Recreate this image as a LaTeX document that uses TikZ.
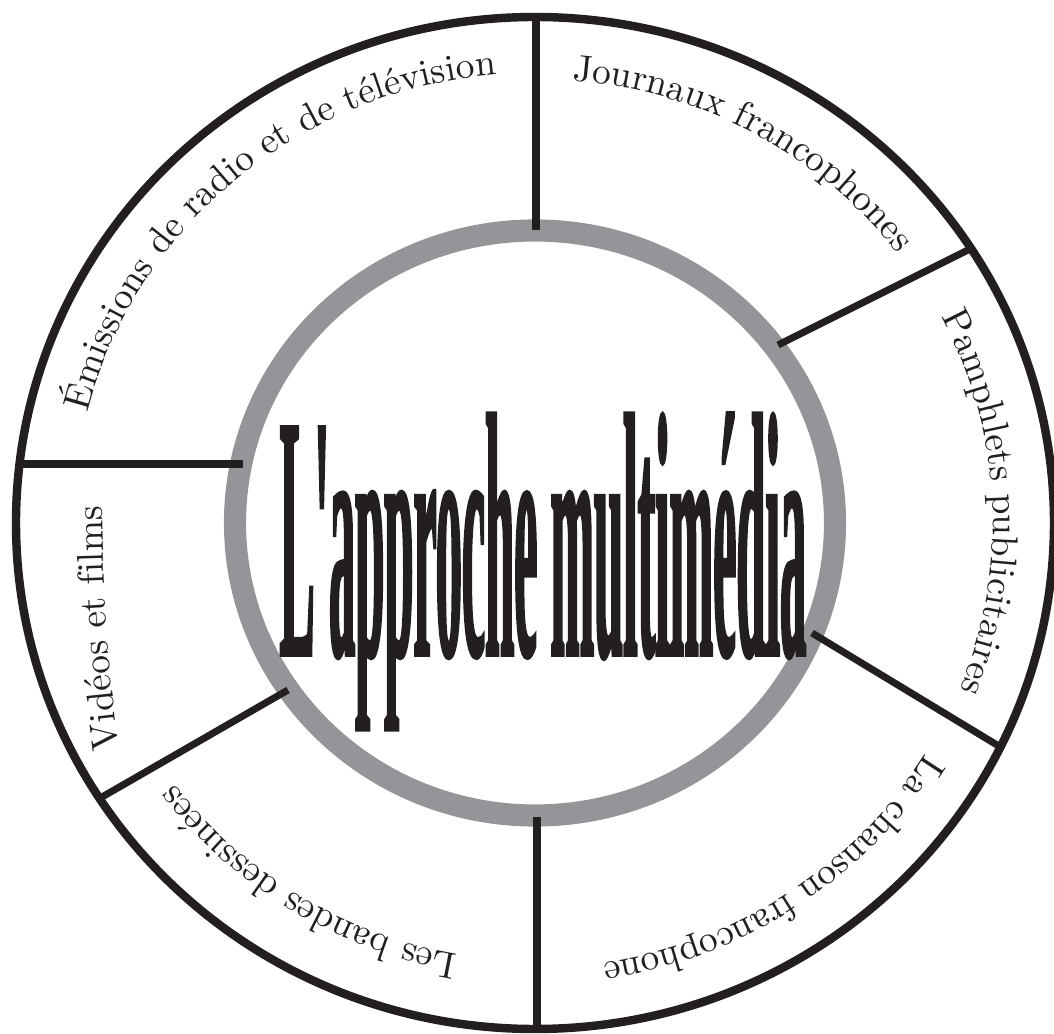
\documentclass[tikz,border=0pt]{standalone}
\usepackage{fontspec}
\usepackage{tikz}
\usetikzlibrary{decorations.text}

\newfontfamily\titlefont{Liberation Serif}[Ligatures=TeXOff,FakeStretch=0.149,FakeBold=0.5]
\newcommand{\labelfont}{\fontsize{10.65}{13}\selectfont}
\definecolor{ink}{RGB}{35,31,32}
\definecolor{ringgray}{RGB}{147,149,152}

\begin{document}
\begin{tikzpicture}
            \tikzset{every node/.style={inner sep=0pt, text=ink},
                    every edge/.style={draw=ink, line width=2pt},
                    rim/.style={draw=ink, line width=2.4pt},
                    hub/.style={draw=ringgray, line width=6.3pt},
                    sector/.style={decorate, decoration={text along path,
                        text align=center, text={|\labelfont\color{ink}|#1}}}}
            \useasboundingbox (-5.35, -5.11) rectangle (5.19, 5.23);
            \draw[rim] (0, 0) ellipse [x radius=5.19, y radius=5.06];
            \draw[hub] (0, 0) ellipse [x radius=3, y radius=2.925];
            \coordinate (h1) at (0.01, 2.93);
            \coordinate (r1) at (0.01, 5.06);
            \coordinate (h2) at (2.43, 1.78);
            \coordinate (r2) at (4.37, 2.75);
            \coordinate (h3) at (2.77, -1.10);
            \coordinate (r3) at (4.67, -2.25);
            \coordinate (h4) at (0.02, -2.94);
            \coordinate (r4) at (0.02, -5.05);
            \coordinate (h5) at (-2.47, -1.67);
            \coordinate (r5) at (-4.33, -2.74);
            \coordinate (h6) at (-2.92, 0.59);
            \coordinate (r6) at (-5.15, 0.59);
            \coordinate (v1) at (-4.16, -2.30);
            \coordinate (v2) at (-4.33, 0.21);
            \path (h1) edge (r1);
            \path (h2) edge (r2);
            \path (h3) edge (r3);
            \path (h4) edge (r4);
            \path (h5) edge (r5);
            \path (h6) edge (r6);
            \node[anchor=base] (title) at (0.08, -1.33)
                {\titlefont\fontsize{99.9}{100}\selectfont\bfseries L'approche multimédia};
            \path[sector={Émissions de radio et de télévision}]
                (185.5:4.62 and 4.5) arc [start angle=185.5, end angle=75.5, x radius=4.62, y radius=4.5];
            \path[sector={Journaux francophones}]
                (116:4.56 and 4.44) arc [start angle=116, end angle=6, x radius=4.56, y radius=4.44];
            \path[sector={Pamphlets publicitaires}]
                (57.75:4.58 and 4.46) arc [start angle=57.75, end angle=-52.25, x radius=4.58, y radius=4.46];
            \path[sector={La chanson francophone}]
                (-1:4.57 and 4.45) arc [start angle=-1, end angle=-111, x radius=4.57, y radius=4.45];
            \path[sector={Les bandes dessinées}]
                (293:4.49 and 4.38) arc [start angle=293, end angle=183, x radius=4.49, y radius=4.38];
            \path[sector={Vidéos et films}] (v1) to[bend left=3] (v2);
\end{tikzpicture}
\end{document}
